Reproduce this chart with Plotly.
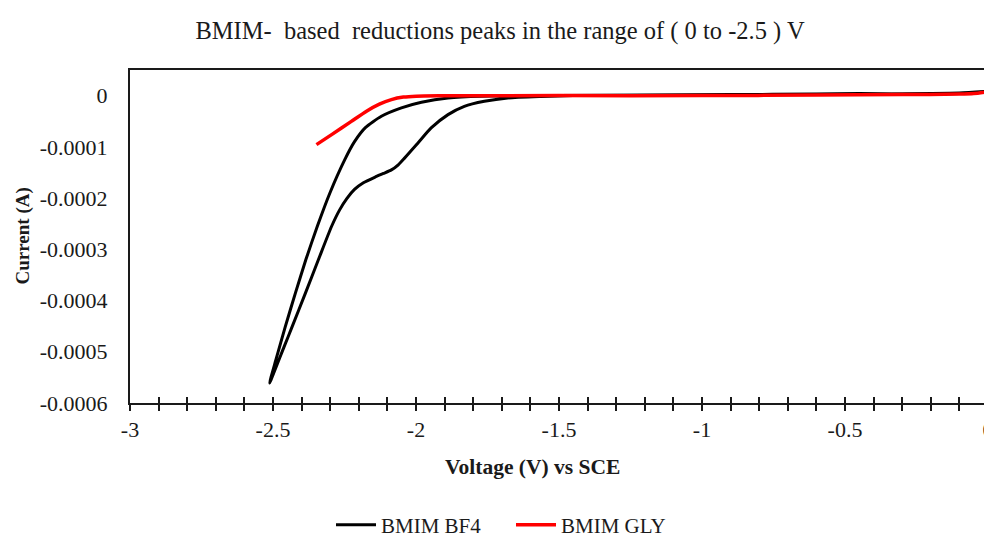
import plotly.graph_objects as go

# BMIM BF4: cathodic scan (0 -> -2.51 V) then return scan back to 0 V
bf4_v = [0.0, -0.1, -0.3, -0.45, -0.6, -0.9, -1.2, -1.45, -1.563, -1.679, -1.761, -1.831, -1.888, -1.947,
         -1.993, -2.04, -2.062, -2.086, -2.114, -2.143, -2.184, -2.215, -2.242, -2.267, -2.295, -2.341,
         -2.387, -2.433, -2.461, -2.512,
         -2.49, -2.457, -2.422, -2.385, -2.345, -2.301, -2.249, -2.215, -2.177, -2.121, -2.051, -1.981,
         -1.888, -1.772, -1.5, -1.2, -0.8, -0.4, -0.1, -0.01]
bf4_i = [0.000007, 0.000004, 0.000003, 0.000004, 0.000003, 0.000002, 0.000001, 0.0, -0.0000016,
         -0.0000045, -0.0000111, -0.0000209, -0.0000371, -0.0000631,
         -0.0000924, -0.000122, -0.000135, -0.000145, -0.000152, -0.000159, -0.00017, -0.000183, -0.000201,
         -0.000223, -0.000255, -0.00032, -0.000386, -0.000451, -0.00049, -0.000561,
         -0.000516, -0.000451, -0.000386, -0.00032, -0.000255, -0.00019, -0.000125, -0.0000899, -0.0000625,
         -0.0000404, -0.000024, -0.0000131,
         -0.0000045, -0.000001, 0.0, 0.000001, 0.000002, 0.000003, 0.000005, 0.000008]

# BMIM GLY
gly_v = [0.0, -0.02, -0.05, -0.1, -0.3, -0.6, -1.0, -1.5, -1.912, -1.999, -2.044, -2.086, -2.128, -2.173,
         -2.226, -2.295, -2.348]
gly_i = [0.000008, 0.000006, 0.000004, 0.000003, 0.000002, 0.000001, 0.0, 0.0, -0.0000004, -0.000001,
         -0.0000029, -0.0000078, -0.0000166, -0.0000303, -0.0000502, -0.0000762, -0.0000957]

x_ticks = [-3, -2.5, -2, -1.5, -1, -0.5, 0]
x_ticklabels = ["-3", "-2.5", "-2", "-1.5", "-1", "-0.5", "0"]
y_ticks = [0, -0.0001, -0.0002, -0.0003, -0.0004, -0.0005, -0.0006]
y_ticklabels = ["0", "-0.0001", "-0.0002", "-0.0003", "-0.0004", "-0.0005", "-0.0006"]

FONT = "Liberation Serif, Times New Roman, serif"
AX = "#1a1a1a"
W, H = 984, 530  # page body has an 8px margin; keeps the figure inside the 992x538 window

fig = go.Figure()
fig.add_trace(go.Scatter(x=bf4_v, y=bf4_i, mode="lines", name="BMIM BF4",
                         line=dict(color="black", width=3, shape="spline", smoothing=0.6)))
fig.add_trace(go.Scatter(x=gly_v, y=gly_i, mode="lines", name="BMIM GLY",
                         line=dict(color="#ff0000", width=3.5, shape="spline", smoothing=0.6)))
# invisible trace on the second x axis (for inside ticks)
fig.add_trace(go.Scatter(x=[None], y=[None], xaxis="x2", showlegend=False, hoverinfo="skip"))

xr = [-3, 0]
fig.update_layout(
    width=W, height=H,
    margin=dict(l=122, r=4, t=62, b=135, autoexpand=False),
    paper_bgcolor="white", plot_bgcolor="white",
    font=dict(family=FONT, color="#1a1a1a", size=22),
    title=dict(text="BMIM-\u00a0 based\u00a0 reductions peaks in the range of ( 0 to -2.5 ) V",
               x=0.5, xanchor="center", y=1 - 22 / H, yanchor="middle",
               font=dict(family=FONT, size=24.5, color="#1a1a1a")),
    xaxis=dict(range=xr, tickvals=x_ticks, ticktext=x_ticklabels, showgrid=False, zeroline=False,
               showline=True, linecolor=AX, linewidth=2, mirror=True, automargin=False,
               ticks="outside", ticklen=6, tickwidth=2, tickcolor=AX, ticklabelstandoff=0,
               ticklabeloverflow="allow",
               minor=dict(dtick=0.1, tick0=-3, ticks="outside", ticklen=6, tickwidth=2, tickcolor=AX),
               tickfont=dict(family=FONT, size=22)),
    xaxis2=dict(range=xr, overlaying="x", anchor="y", side="bottom", showgrid=False, zeroline=False,
                showticklabels=False, tickvals=x_ticks, ticks="inside", ticklen=6, tickwidth=2, tickcolor=AX,
                automargin=False,
                minor=dict(dtick=0.1, tick0=-3, ticks="inside", ticklen=6, tickwidth=2, tickcolor=AX)),
    yaxis=dict(range=[-0.0006, 0.00005], tickvals=y_ticks, ticktext=y_ticklabels, showgrid=False,
               zeroline=False, showline=True, linecolor=AX, linewidth=2, mirror=True, ticks="",
               automargin=False, ticklabelstandoff=16, tickfont=dict(family=FONT, size=22)),
    showlegend=True,
    legend=dict(orientation="h", xref="container", yref="container", x=503 / W, xanchor="center",
                y=(H - 517) / H, yanchor="middle", font=dict(family=FONT, size=21),
                itemwidth=40, tracegroupgap=0, bgcolor="rgba(0,0,0,0)",
                entrywidth=125, entrywidthmode="pixels"),
    annotations=[
        dict(text="<b>Voltage (V) vs SCE</b>", xref="paper", yref="paper", x=(524 - 122) / 858, y=0,
             yshift=-64, xanchor="center", yanchor="middle", showarrow=False,
             font=dict(family=FONT, size=21.5)),
        dict(text="<b>Current (A)</b>", xref="paper", yref="paper", x=0, xshift=-108, y=0.5,
             textangle=-90, xanchor="center", yanchor="middle", showarrow=False,
             font=dict(family=FONT, size=19)),
    ],
)
fig.write_html("out.html")
